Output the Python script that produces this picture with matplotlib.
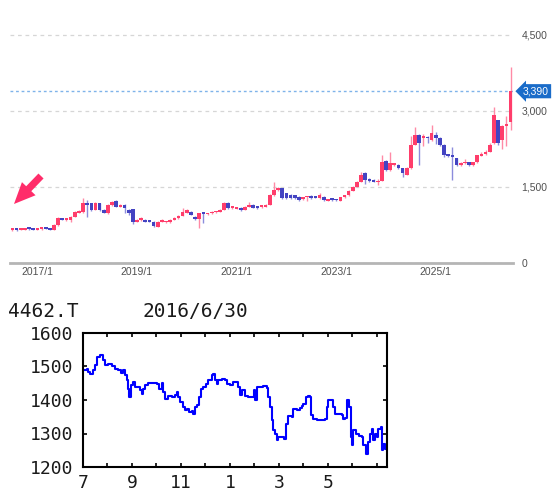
import numpy as np
import pandas as pd
import matplotlib
matplotlib.use('Agg')
import matplotlib.pyplot as plt
from matplotlib import transforms

# monthly candles, 2016/7 .. 2026/7
opens = [650, 660, 650, 660, 680, 670, 660, 670, 690, 690, 655, 750, 880, 850, 850, 915, 995, 1000, 1180, 1180,
         1050, 1180, 1050, 980, 1145, 1225, 1110, 1145, 1050, 1060, 815, 850, 850, 820, 815, 720, 815, 800, 800, 850,
         880, 930, 990, 1015, 915, 860, 975, 960, 980, 1000, 1015, 1045, 1190, 1080, 1075, 1090, 1045, 1110, 1145, 1110,
         1100, 1112, 1145, 1340, 1440, 1475, 1375, 1340, 1340, 1310, 1255, 1295, 1325, 1310, 1280, 1310, 1230, 1250, 1245, 1230,
         1295, 1340, 1430, 1505, 1605, 1770, 1650, 1640, 1590, 1620, 2015, 1835, 1935, 1935, 1870, 1740, 1870, 2330, 2525, 2460,
         2495, 2430, 2525, 2460, 2330, 2130, 2120, 2065, 1935, 1965, 1990, 1935, 1990, 2120, 2150, 2200, 2360, 2820, 2430, 2710,
         2790]
closes = [660, 650, 660, 680, 670, 660, 670, 690, 680, 655, 750, 880, 850, 860, 915, 1010, 1015, 1190, 1150, 1050,
          1190, 1050, 995, 1145, 1210, 1110, 1145, 1080, 980, 800, 850, 880, 815, 810, 730, 815, 850, 815, 850, 880,
          930, 1010, 1040, 950, 860, 980, 965, 980, 1010, 1015, 1045, 1190, 1080, 1095, 1090, 1045, 1110, 1145, 1090, 1080,
          1112, 1145, 1340, 1440, 1475, 1280, 1280, 1280, 1280, 1245, 1295, 1310, 1280, 1290, 1340, 1245, 1255, 1240, 1235, 1295,
          1340, 1430, 1505, 1605, 1735, 1640, 1620, 1605, 1605, 2000, 1835, 1965, 1950, 1870, 1770, 1870, 2330, 2525, 2360, 2505,
          2460, 2560, 2460, 2330, 2130, 2120, 2100, 1935, 1965, 1990, 1935, 1990, 2130, 2135, 2200, 2330, 2920, 2360, 2710, 2725,
          3390]
highs = [680, 670, 675, 690, 690, 680, 685, 700, 700, 700, 760, 900, 890, 880, 930, 1020, 1040, 1280, 1250, 1190,
         1200, 1190, 1060, 1160, 1230, 1240, 1160, 1160, 1060, 1070, 870, 900, 860, 830, 825, 830, 860, 830, 870, 900,
         950, 1080, 1060, 1030, 930, 990, 990, 990, 1025, 1030, 1060, 1200, 1200, 1110, 1110, 1100, 1130, 1200, 1160, 1120,
         1130, 1160, 1360, 1600, 1490, 1480, 1390, 1360, 1350, 1320, 1310, 1320, 1340, 1330, 1380, 1320, 1270, 1260, 1255, 1300,
         1350, 1440, 1520, 1620, 1800, 1790, 1670, 1650, 1660, 2130, 2030, 2200, 1970, 1950, 1880, 1890, 2500, 2690, 2540, 2540,
         2510, 2720, 2590, 2480, 2340, 2150, 2290, 2080, 1990, 2050, 2000, 2000, 2140, 2200, 2230, 2360, 3085, 2830, 2720, 2900,
         3875]
lows = [640, 640, 645, 650, 660, 650, 650, 660, 670, 645, 650, 740, 840, 830, 800, 900, 980, 990, 915, 1030,
        1040, 1030, 980, 970, 1130, 1100, 1100, 980, 950, 760, 800, 830, 800, 800, 720, 710, 800, 790, 790, 840,
        870, 920, 980, 940, 850, 690, 790, 950, 970, 990, 1000, 1040, 1070, 1070, 1060, 1030, 1040, 1100, 1080, 1070,
        1090, 1100, 1140, 1330, 1420, 1270, 1260, 1270, 1270, 1230, 1240, 1230, 1270, 1280, 1270, 1230, 1220, 1230, 1225, 1220,
        1290, 1330, 1420, 1500, 1600, 1560, 1600, 1590, 1540, 1610, 1820, 1820, 1920, 1850, 1700, 1730, 1860, 2320, 1935, 2300,
        2370, 2410, 2350, 2300, 2100, 2100, 1640, 1920, 1920, 1950, 1920, 1920, 1980, 2110, 2140, 2190, 2350, 2330, 2250, 2300,
        2625]
last_price = 3390
price_ticks = [0, 1500, 3000, 4500]

# small inset chart (one year from 2016/6/30)
sub_code = '4462.T'
sub_date = '2016/6/30'
sub_x = [0.01, 0.15, 0.22, 0.29, 0.39, 0.49, 0.56, 0.69, 0.76, 0.83, 0.90, 1.03, 1.17, 1.31, 1.44, 1.54, 1.65, 1.71,
         1.78, 1.85, 1.89, 1.95, 2.03, 2.12, 2.22, 2.33, 2.39, 2.44, 2.53, 2.67, 2.87, 3.01, 3.12, 3.21, 3.28, 3.35,
         3.48, 3.62, 3.76, 3.82, 3.89, 3.96, 4.07, 4.16, 4.26, 4.34, 4.44, 4.50, 4.57, 4.67, 4.75, 4.82, 4.91, 5.02,
         5.12, 5.18, 5.25, 5.32, 5.39, 5.46, 5.52, 5.66, 5.80, 5.89, 6.00, 6.14, 6.27, 6.34, 6.41, 6.48, 6.61, 6.75,
         6.88, 6.98, 7.02, 7.09, 7.22, 7.36, 7.50, 7.56, 7.63, 7.70, 7.77, 7.84, 7.90, 7.97, 8.11, 8.20, 8.29, 8.38,
         8.52, 8.59, 8.72, 8.86, 8.93, 8.99, 9.10, 9.20, 9.27, 9.29, 9.40, 9.54, 9.74, 9.88, 9.95, 10.01, 10.15, 10.19,
         10.29, 10.42, 10.56, 10.63, 10.69, 10.79, 10.87, 10.93, 10.97, 11.03, 11.14, 11.28, 11.37, 11.44, 11.55, 11.65,
         11.71, 11.78, 11.85, 11.92, 11.99, 12.05, 12.15, 12.19, 12.26, 12.33, 12.41]
sub_y = [1489, 1494, 1484, 1477, 1489, 1503, 1528, 1533, 1533, 1518, 1503, 1506, 1500, 1494, 1489, 1481, 1489, 1474,
         1459, 1434, 1409, 1444, 1454, 1439, 1439, 1429, 1419, 1434, 1444, 1451, 1451, 1449, 1434, 1451, 1424, 1404,
         1411, 1409, 1414, 1424, 1409, 1394, 1379, 1369, 1374, 1364, 1367, 1359, 1379, 1384, 1409, 1434, 1439, 1449,
         1459, 1461, 1474, 1479, 1459, 1449, 1461, 1464, 1461, 1449, 1444, 1454, 1454, 1439, 1414, 1429, 1411, 1409,
         1409, 1429, 1399, 1439, 1439, 1441, 1437, 1409, 1379, 1339, 1309, 1299, 1280, 1290, 1290, 1285, 1329, 1351,
         1349, 1374, 1369, 1377, 1381, 1389, 1409, 1411, 1409, 1354, 1344, 1341, 1341, 1344, 1379, 1399, 1399, 1379,
         1359, 1357, 1354, 1344, 1346, 1399, 1379, 1290, 1265, 1309, 1299, 1292, 1290, 1265, 1240, 1275,
         1299, 1314, 1280, 1299, 1290, 1314, 1319, 1250, 1270, 1255, 1275]
sub_ticks = [0, 2, 4, 6, 8, 10]
sub_tick_labels = ['7', '9', '11', '1', '3', '5']

RED, RED_W = '#ff3d6b', '#ff8aa6'
BLUE, BLUE_W = '#4343c2', '#8c8cdc'

W, H = 556, 497
fig = plt.figure(figsize=(W / 100, H / 100), dpi=100)

# ---- top candlestick chart ----
ax = fig.add_axes([10 / W, 1 - 263 / H, 503 / W, 263 / H])
idx = np.arange(len(closes))
o = np.array(opens)
c = np.array(closes)
up = c >= o
ax.vlines(idx, lows, highs, colors=np.where(up, RED_W, BLUE_W), linewidth=1, zorder=2)
ax.bar(idx, np.maximum(np.abs(c - o), 35), 0.88, bottom=np.minimum(o, c),
       color=np.where(up, RED, BLUE), linewidth=0, zorder=3)

ax.set_xlim(-0.6, len(closes) - 0.4)
ax.set_ylim(0, 5190)
ax.set_yticks(price_ticks)
ax.set_yticklabels(['{:,}'.format(v) for v in price_ticks])
ax.yaxis.tick_right()
ax.yaxis.grid(True, linestyle=(0, (3, 3)), color='#d6d6d6', linewidth=0.9)
ax.set_axisbelow(True)

months = pd.date_range('2016-07-01', periods=len(closes), freq='MS')
xt = [i for i, m in enumerate(months) if m.month == 1 and m.year % 2 == 1]
ax.set_xticks(xt)
ax.set_xticklabels(['{}/1'.format(months[i].year) for i in xt])
ax.tick_params(length=0, labelsize=7.5, labelcolor='#505050')
ax.tick_params(axis='y', pad=6)
ax.tick_params(axis='x', pad=3)
for lab in ax.get_xticklabels() + ax.get_yticklabels():
    lab.set_family('Liberation Sans')
for s in ['top', 'left', 'right']:
    ax.spines[s].set_visible(False)
ax.spines['bottom'].set_color('#b5b5b5')
ax.spines['bottom'].set_linewidth(2)

ax.axhline(last_price, color='#7fb3ea', linestyle=(0, (2, 2)), linewidth=1, zorder=1)
trans = transforms.blended_transform_factory(ax.transAxes, ax.transData)
ax.text(1.02, last_price, '{:,}'.format(last_price), transform=trans, ha='left', va='center',
        color='white', fontsize=7.5, family='Liberation Sans',
        bbox=dict(boxstyle='larrow,pad=0.2', fc='#1a6cc9', ec='none'))

ax.annotate('', xy=(14, H - 204), xycoords='figure pixels', xytext=(41, H - 176),
            textcoords='figure pixels',
            arrowprops=dict(arrowstyle='simple,head_length=0.9,head_width=0.8,tail_width=0.3',
                            fc='#ff2d6a', ec='none', mutation_scale=17, shrinkA=0, shrinkB=0))

# ---- bottom one-year chart ----
ax2 = fig.add_axes([83 / W, 30 / H, 304 / W, 134 / H])
ax2.plot(sub_x, sub_y, color='#0000ff', linewidth=1.5, drawstyle='steps-post')
ax2.set_xlim(0, 12.41)
ax2.set_ylim(1200, 1600)
ax2.set_xticks(sub_ticks)
ax2.set_xticklabels(sub_tick_labels)
ax2.set_xticks(range(13), minor=True)
ax2.set_yticks([1200, 1300, 1400, 1500, 1600])
ax2.tick_params(which='both', direction='in', top=True, right=True, length=3, width=1.2,
                labelsize=13)
ax2.tick_params(axis='y', pad=7)
ax2.tick_params(axis='x', pad=5)
for lab in ax2.get_xticklabels() + ax2.get_yticklabels():
    lab.set_family('DejaVu Sans Mono')
    lab.set_color('#1a1a1a')
for s in ax2.spines.values():
    s.set_linewidth(1.5)

fig.text(8 / W, (H - 317) / H, sub_code, fontsize=14, family='DejaVu Sans Mono', color='#1a1a1a')
fig.text(143 / W, (H - 317) / H, sub_date, fontsize=14, family='DejaVu Sans Mono', color='#1a1a1a')

fig.savefig('out.png', dpi=100)
